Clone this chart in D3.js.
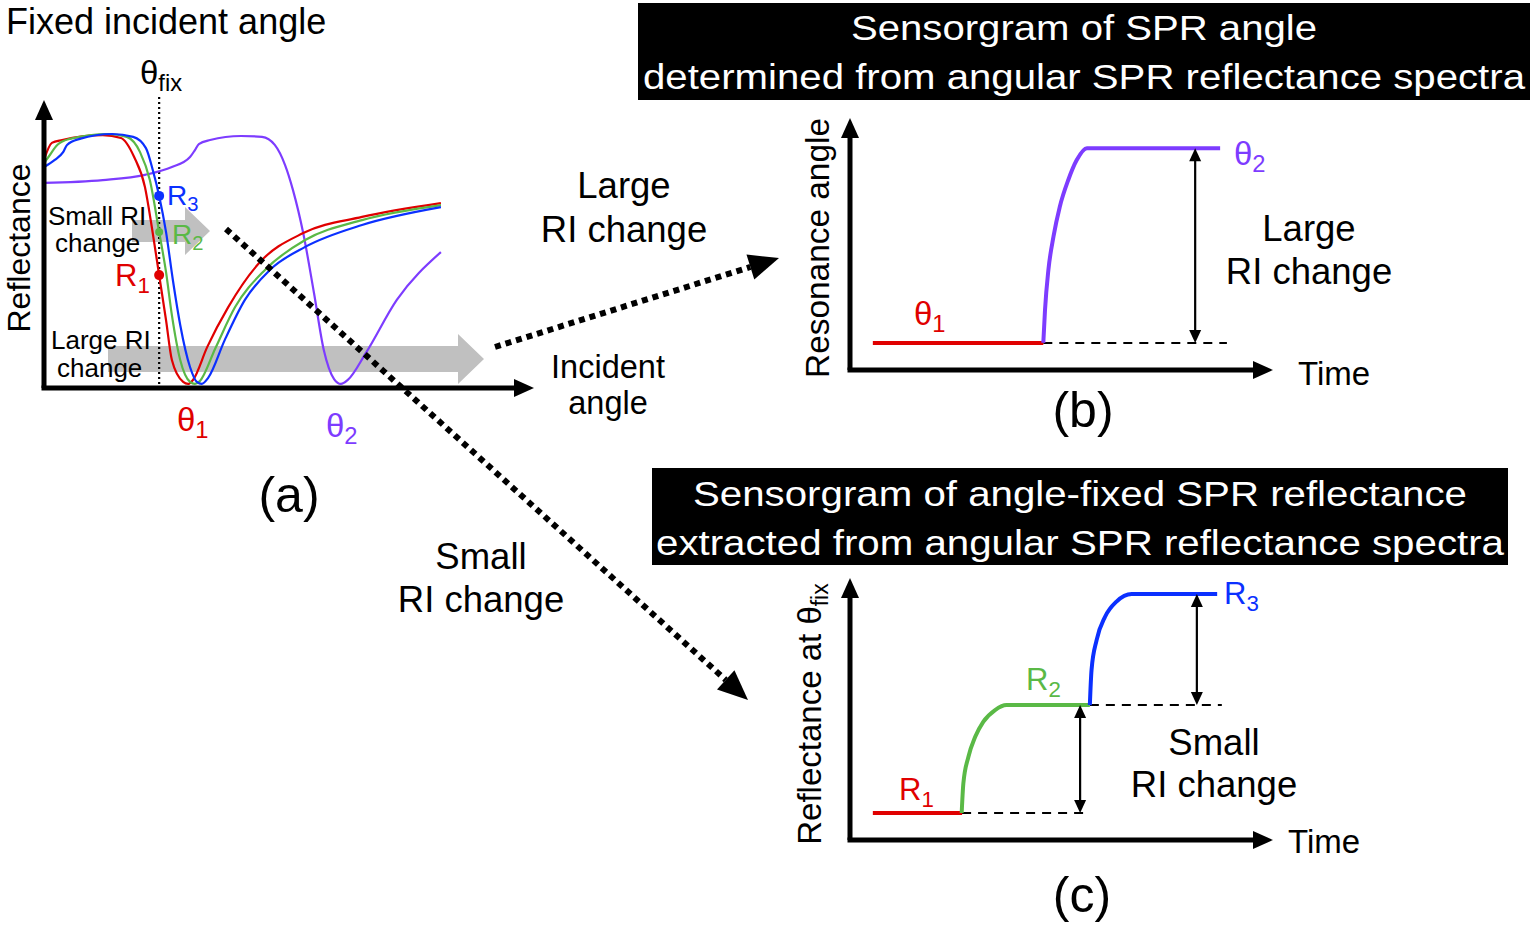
<!DOCTYPE html>
<html>
<head>
<meta charset="utf-8">
<script src="https://cdn.jsdelivr.net/npm/d3@7/dist/d3.min.js"></script>
<style>
  html, body { margin: 0; padding: 0; background: #fff; }
  svg { display: block; font-family: "Liberation Sans", Arial, Helvetica, sans-serif; }
</style>
</head>
<body>
<svg id="chart" width="1534" height="929"></svg>
<script>
// ---------------- DATA ----------------
// Panel (a): angular reflectance spectra [incident angle (a.u.), reflectance (a.u.)]
const spectrumRed = [[0,79.2],[1.6,85.1],[3.7,86.1],[12.0,87.8],[15.7,86.8],[18.4,80.2],[20.6,69.8],[22.0,55.9],[23.5,39.2],[24.9,23.6],[26.1,9.7],[28.4,2.1],[29.4,1.4],[30.4,2.8],[33.3,14.2],[37.6,28.1],[43.9,43.4],[52.9,53.8],[64.9,59.4],[81.0,64.2]];
const spectrumGreen = [[0,78.1],[1.2,80.9],[2.7,84.4],[5.3,86.5],[13.1,88.2],[16.9,87.2],[19.6,81.9],[21.6,72.2],[23.5,54.2],[24.9,40.3],[26.1,25.3],[27.8,9.7],[29.8,2.1],[30.8,1.4],[31.8,2.4],[35.0,13.9],[39.0,28.1],[45.1,41.0],[53.3,51.4],[64.9,58.3],[81.0,63.5]];
const spectrumBlue = [[0,76.7],[2.2,79.2],[3.9,81.9],[4.7,84.4],[7.3,86.5],[13.9,88.2],[18.2,87.2],[20.8,83.3],[22.2,75.7],[23.5,66.7],[24.9,54.2],[26.3,37.5],[27.8,21.9],[29.8,7.3],[31.2,2.1],[32.2,1.4],[33.5,3.5],[36.9,16.7],[41.0,30.6],[46.1,41.0],[53.3,49.0],[64.9,56.6],[81.0,62.8]];
const spectrumPurple = [[0,71.2],[12.0,72.2],[20.6,74.0],[26.1,76.7],[29.8,80.2],[30.8,82.6],[31.6,84.7],[33.9,86.1],[40.2,87.5],[44.5,87.2],[47.1,84.4],[49.2,77.4],[50.8,68.8],[52.9,53.8],[55.1,33.0],[57.1,13.2],[59.2,3.1],[60.6,1.4],[62.0,2.8],[65.7,12.2],[72.0,30.6],[81.0,47.2]];
const thetaFix = 23.5;
const fixedPoints = [ // reflectance read at theta_fix
  {label: "R", sub: "1", value: 39.2, color: "#e00000"},
  {label: "R", sub: "2", value: 54.2, color: "#5ab946"},
  {label: "R", sub: "3", value: 66.7, color: "#0b30ff"}
];

// Panel (b): resonance angle sensorgram [time, angle]
const sensorTheta1 = [[5.4,10.7],[45.7,10.7]];
const sensorTheta2 = [[45.7,10.8],[46.1,23.8],[46.9,39.7],[48.1,52.9],[49.6,64.8],[51.6,75.4],[53.6,83.3],[56.0,88.0],[87.5,88.0]];
const sensorBBaseline = [[45.7,10.7],[89.1,10.7]];
const sensorBArrowT = 81.6;

// Panel (c): reflectance at theta_fix sensorgram [time, reflectance]
const sensorR1 = [[5.4,10.3],[26.5,10.3]];
const sensorR2 = [[26.4,10.3],[26.8,21.6],[28.0,31.8],[29.6,39.4],[31.5,45.1],[34.3,49.6],[37.0,51.5],[56.7,51.5]];
const sensorR3 = [[56.7,51.5],[57.1,64.9],[58.3,76.3],[60.3,85.2],[63.0,91.0],[66.6,93.9],[86.8,93.9]];
const sensorCBase1 = [[26.5,10.3],[56.7,10.3]];
const sensorCBase2 = [[56.7,51.5],[87.9,51.5]];
const sensorCArrows = [{t: 54.4, from: 10.3, to: 51.5}, {t: 82.0, from: 51.5, to: 93.9}];

// Colors
const RED = "#e00000", GREEN = "#5ab946", BLUE = "#0b30ff", PURPLE = "#7d3cff", GREY = "#c0c0c0";

// ---------------- SCALES ----------------
const ax = d3.scaleLinear([0,100],[44,534]);
const ay = d3.scaleLinear([0,100],[388,100]);
const bx = d3.scaleLinear([0,100],[850,1273]);
const by = d3.scaleLinear([0,100],[370,118]);
const cx = d3.scaleLinear([0,100],[850,1273]);
const cy = d3.scaleLinear([0,100],[840,578]);

const svg = d3.select("#chart");

// ---------------- HELPERS ----------------
function triangle(g, tipX, tipY, dx, dy, len, half, color) {
  const n = Math.hypot(dx, dy); const ux = dx/n, uy = dy/n;
  const bxp = tipX - ux*len, byp = tipY - uy*len;
  const px = -uy, py = ux;
  g.append("path")
    .attr("d", `M${tipX},${tipY}L${bxp+px*half},${byp+py*half}L${bxp-px*half},${byp-py*half}Z`)
    .attr("fill", color || "#000");
}
function axes(g, xs, ys) {
  const x0 = xs.range()[0], x1 = xs.range()[1];
  const y0 = ys.range()[0], y1 = ys.range()[1];
  g.append("line").attr("x1", x0).attr("y1", y0).attr("x2", x0).attr("y2", y1+16)
    .attr("stroke","#000").attr("stroke-width",5);
  g.append("line").attr("x1", x0-2.5).attr("y1", y0).attr("x2", x1-16).attr("y2", y0)
    .attr("stroke","#000").attr("stroke-width",5);
  triangle(g, x0, y1, 0, -1, 20, 9);
  triangle(g, x1, y0, 1, 0, 20, 9);
}
function label(g, x, y, main, sub, size, color, anchor) {
  const t = g.append("text").attr("x", x).attr("y", y).attr("font-size", size)
    .attr("fill", color || "#000").attr("text-anchor", anchor || "start");
  t.append("tspan").text(main);
  if (sub) t.append("tspan").attr("font-size", size*0.72).attr("dy", size*0.22).text(sub);
  return t;
}
function doubleArrow(g, x, yA, yB) {
  const top = Math.min(yA, yB), bot = Math.max(yA, yB);
  g.append("line").attr("x1", x).attr("x2", x).attr("y1", top+10).attr("y2", bot-10)
    .attr("stroke","#000").attr("stroke-width",2.2);
  triangle(g, x, top, 0, -1, 13, 6);
  triangle(g, x, bot, 0, 1, 13, 6);
}
function dottedArrow(g, x1, y1, x2, y2) {
  const dx = x2-x1, dy = y2-y1, n = Math.hypot(dx, dy);
  const len = 30;
  g.append("line").attr("x1", x1).attr("y1", y1)
    .attr("x2", x2 - dx/n*len).attr("y2", y2 - dy/n*len)
    .attr("stroke","#000").attr("stroke-width",6).attr("stroke-dasharray","6,5");
  triangle(g, x2, y2, dx, dy, len, 13);
}

// ---------------- PANEL (a) ----------------
const ga = svg.append("g");
function greyArrow(x1, x2, yc, shaftH, headL, headH) {
  ga.append("path")
    .attr("d", `M${x1},${yc-shaftH/2}L${x2-headL},${yc-shaftH/2}L${x2-headL},${yc-headH/2}L${x2},${yc}L${x2-headL},${yc+headH/2}L${x2-headL},${yc+shaftH/2}L${x1},${yc+shaftH/2}Z`)
    .attr("fill", GREY);
}
greyArrow(132, 210, 231, 22, 25, 48);
greyArrow(108, 484, 359, 26, 26, 50);

ga.append("line").attr("x1", ax(thetaFix)).attr("x2", ax(thetaFix)).attr("y1", 97).attr("y2", ay(1))
  .attr("stroke","#000").attr("stroke-width",2.2).attr("stroke-dasharray","2,3");

const lineA = d3.line().x(d => ax(d[0])).y(d => ay(d[1])).curve(d3.curveMonotoneX);
[[spectrumPurple, PURPLE],[spectrumRed, RED],[spectrumGreen, GREEN],[spectrumBlue, BLUE]].forEach(([data, col]) => {
  ga.append("path").attr("d", lineA(data)).attr("fill","none").attr("stroke", col).attr("stroke-width", 2.2);
});
axes(ga, ax, ay);

fixedPoints.forEach(p => {
  ga.append("circle").attr("cx", ax(thetaFix)).attr("cy", ay(p.value)).attr("r", p.sub === "2" ? 4 : 5).attr("fill", p.color);
});

label(ga, 6, 34, "Fixed incident angle", null, 36);
label(ga, 140, 84, "θ", "fix", 33);
ga.append("text").attr("transform", "translate(30,248) rotate(-90)").attr("text-anchor","middle")
  .attr("font-size", 32).text("Reflectance");
label(ga, 48, 225, "Small RI", null, 26);
label(ga, 55, 252, "change", null, 26);
label(ga, 51, 349, "Large RI", null, 26);
label(ga, 57, 377, "change", null, 26);
label(ga, 115, 286, "R", "1", 31, RED);
label(ga, 167, 205, "R", "3", 28, BLUE);
label(ga, 172, 244, "R", "2", 28, GREEN);
label(ga, 177, 431, "θ", "1", 33, RED);
label(ga, 326, 437, "θ", "2", 33, PURPLE);
label(ga, 289, 512, "(a)", null, 50, "#000", "middle");

// middle texts
const gm = svg.append("g");
label(gm, 608, 378, "Incident", null, 32.5, "#000", "middle");
label(gm, 608, 414, "angle", null, 32.5, "#000", "middle");
label(gm, 624, 198, "Large", null, 36.5, "#000", "middle");
label(gm, 624, 242, "RI change", null, 36.5, "#000", "middle");
label(gm, 481, 569, "Small", null, 36.5, "#000", "middle");
label(gm, 481, 612, "RI change", null, 36.5, "#000", "middle");

// ---------------- PANEL (b) ----------------
const gb = svg.append("g");
gb.append("rect").attr("x", 638).attr("y", 3).attr("width", 892).attr("height", 97).attr("fill", "#000");
gb.append("text").attr("x", 1084).attr("y", 40).attr("text-anchor","middle").attr("fill","#fff")
  .attr("font-size", 35).attr("textLength", 466).attr("lengthAdjust","spacingAndGlyphs").text("Sensorgram of SPR angle");
gb.append("text").attr("x", 1084).attr("y", 89).attr("text-anchor","middle").attr("fill","#fff")
  .attr("font-size", 35).attr("textLength", 882).attr("lengthAdjust","spacingAndGlyphs").text("determined from angular SPR reflectance spectra");

const lineB = d3.line().x(d => bx(d[0])).y(d => by(d[1])).curve(d3.curveMonotoneX);
gb.append("path").attr("d", lineB(sensorBBaseline)).attr("fill","none").attr("stroke","#000")
  .attr("stroke-width",2).attr("stroke-dasharray","9,7");
gb.append("path").attr("d", lineB(sensorTheta1)).attr("fill","none").attr("stroke",RED).attr("stroke-width",4);
gb.append("path").attr("d", lineB(sensorTheta2)).attr("fill","none").attr("stroke",PURPLE).attr("stroke-width",4);
doubleArrow(gb, bx(sensorBArrowT), by(sensorTheta2[sensorTheta2.length-1][1]), by(sensorTheta1[0][1]));
axes(gb, bx, by);
gb.append("text").attr("transform", "translate(829,248) rotate(-90)").attr("text-anchor","middle")
  .attr("font-size", 33.4).text("Resonance angle");
label(gb, 914, 325, "θ", "1", 33, RED);
label(gb, 1234, 165, "θ", "2", 33, PURPLE);
label(gb, 1309, 241, "Large", null, 36.5, "#000", "middle");
label(gb, 1309, 284, "RI change", null, 36.5, "#000", "middle");
label(gb, 1298, 385, "Time", null, 33);
label(gb, 1083, 427, "(b)", null, 50, "#000", "middle");

// ---------------- PANEL (c) ----------------
const gc = svg.append("g");
gc.append("rect").attr("x", 652).attr("y", 468).attr("width", 856).attr("height", 97).attr("fill", "#000");
gc.append("text").attr("x", 1080).attr("y", 506).attr("text-anchor","middle").attr("fill","#fff")
  .attr("font-size", 35).attr("textLength", 774).attr("lengthAdjust","spacingAndGlyphs").text("Sensorgram of angle-fixed SPR reflectance");
gc.append("text").attr("x", 1080).attr("y", 555).attr("text-anchor","middle").attr("fill","#fff")
  .attr("font-size", 35).attr("textLength", 848).attr("lengthAdjust","spacingAndGlyphs").text("extracted from angular SPR reflectance spectra");

const lineC = d3.line().x(d => cx(d[0])).y(d => cy(d[1])).curve(d3.curveMonotoneX);
[sensorCBase1, sensorCBase2].forEach(d => gc.append("path").attr("d", lineC(d)).attr("fill","none")
  .attr("stroke","#000").attr("stroke-width",2).attr("stroke-dasharray","9,7"));
gc.append("path").attr("d", lineC(sensorR1)).attr("fill","none").attr("stroke",RED).attr("stroke-width",4);
gc.append("path").attr("d", lineC(sensorR2)).attr("fill","none").attr("stroke",GREEN).attr("stroke-width",4);
gc.append("path").attr("d", lineC(sensorR3)).attr("fill","none").attr("stroke",BLUE).attr("stroke-width",4);
sensorCArrows.forEach(a => doubleArrow(gc, cx(a.t), cy(a.to), cy(a.from)));
axes(gc, cx, cy);
const ylabC = gc.append("text").attr("transform", "translate(821,714) rotate(-90)").attr("text-anchor","middle")
  .attr("font-size", 33);
ylabC.append("tspan").text("Reflectance at θ");
ylabC.append("tspan").attr("font-size", 23).attr("dy", 7).text("fix");
label(gc, 899, 800, "R", "1", 31, RED);
label(gc, 1026, 690, "R", "2", 31, GREEN);
label(gc, 1224, 604, "R", "3", 31, BLUE);
label(gc, 1214, 755, "Small", null, 36.5, "#000", "middle");
label(gc, 1214, 797, "RI change", null, 36.5, "#000", "middle");
label(gc, 1288, 853, "Time", null, 33);
label(gc, 1082, 912, "(c)", null, 50, "#000", "middle");

// ---------------- DOTTED ARROWS (on top) ----------------
const gd = svg.append("g");
dottedArrow(gd, 495, 347, 779, 258);
dottedArrow(gd, 226, 229, 748, 700);
</script>
</body>
</html>
